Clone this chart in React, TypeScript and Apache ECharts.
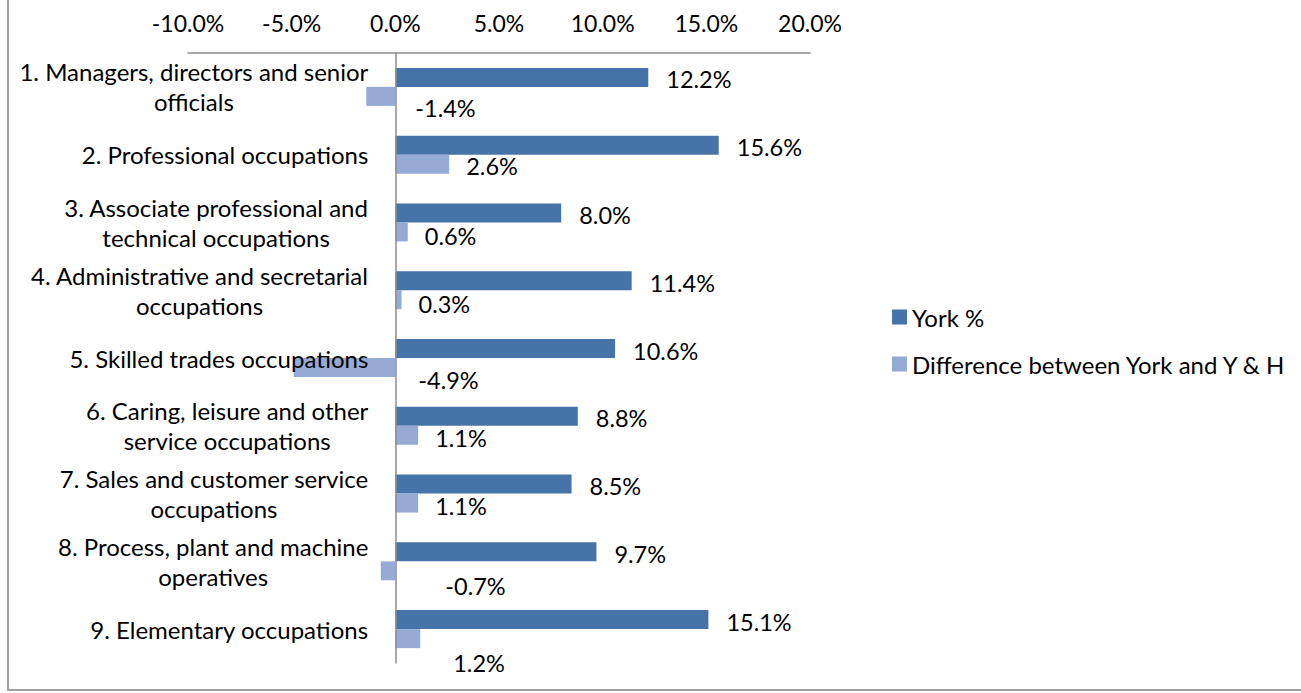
import React, { useEffect, useRef } from "react";
import * as echarts from "echarts";

const categories: string[] = [
  "1. Managers, directors and senior\nofficials",
  "2. Professional occupations",
  "3. Associate professional and\ntechnical occupations",
  "4. Administrative and secretarial\noccupations",
  "5. Skilled trades occupations",
  "6. Caring, leisure and other\nservice occupations",
  "7. Sales and customer service\noccupations",
  "8. Process, plant and machine\noperatives",
  "9. Elementary occupations",
];

const yorkPct: number[] = [12.2, 15.6, 8.0, 11.4, 10.6, 8.8, 8.5, 9.7, 15.1];
const diffYorkYH: number[] = [-1.4, 2.6, 0.6, 0.3, -4.9, 1.1, 1.1, -0.7, 1.2];

const seriesNames: string[] = ["York %", "Difference between York and Y & H"];

const X_MIN = -10;
const X_MAX = 20;
const X_STEP = 5;

// label nudges (style, not data)
const diffLabelNudge: number[][] = [
  [3, 12], [0, 2], [0, 4], [0, 4], [6, 12], [0, 3], [0, 3], [33, 15], [16, 24],
];

const FONT = "Lato, Carlito, 'Noto Sans', sans-serif";
const CAT_FS = 24;

const GRID_LEFT = 188;
const GRID_RIGHT_EDGE = 810;

function measure(text: string, size: number): number {
  const c = document.createElement("canvas");
  const ctx = c.getContext("2d");
  if (!ctx) return text.length * size * 0.5;
  ctx.font = `${size}px ${FONT}`;
  return ctx.measureText(text).width;
}

export default function App() {
  const ref = useRef<HTMLDivElement>(null);
  useEffect(() => {
    if (!ref.current) return;
    const chart = echarts.init(ref.current, undefined, { renderer: "svg" });
    const fmt = (v: number) => `${v.toFixed(1)}%`;
    const zeroOffset = ((0 - X_MIN) / (X_MAX - X_MIN)) * (GRID_RIGHT_EDGE - GRID_LEFT);

    const rich: Record<string, any> = {};
    const catKey = (i: number) => `c${i}`;
    categories.forEach((name, i) => {
      const w = Math.max(...name.split("\n").map((l) => measure(l, CAT_FS))) + 2;
      rich[catKey(i)] = {
        width: w,
        align: "center",
        fontSize: CAT_FS,
        fontFamily: FONT,
        lineHeight: 30,
        color: "#000",
      };
    });

    chart.setOption({
      animation: false,
      textStyle: { fontFamily: FONT },
      grid: {
        left: GRID_LEFT,
        right: 1301 - GRID_RIGHT_EDGE,
        top: 53,
        bottom: 30,
        containLabel: false,
        outerBoundsMode: "none",
      },
      xAxis: {
        type: "value",
        position: "top",
        min: X_MIN,
        max: X_MAX,
        interval: X_STEP,
        axisLine: { show: true, lineStyle: { color: "#8c8c8c", width: 1.5 } },
        axisTick: { show: false },
        splitLine: { show: false },
        axisLabel: {
          formatter: (v: number) => fmt(v),
          color: "#000",
          fontSize: 23,
          fontFamily: FONT,
          margin: 19,
        },
      },
      yAxis: {
        type: "category",
        inverse: true,
        position: "left",
        offset: -zeroOffset,
        z: 5,
        data: categories,
        axisLine: { show: true, onZero: false, lineStyle: { color: "#8c8c8c", width: 1.5 } },
        axisTick: { show: false },
        axisLabel: {
          color: "#000",
          fontSize: CAT_FS,
          fontFamily: FONT,
          lineHeight: 30,
          margin: 26,
          align: "right",
          formatter: (value: string, index: number) =>
            value
              .split("\n")
              .map((l) => `{${catKey(index)}|${l}}`)
              .join("\n"),
          rich,
        },
      },
      legend: {
        orient: "vertical",
        left: 887,
        top: 300,
        itemWidth: 15,
        itemHeight: 15,
        itemGap: 23,
        icon: "rect",
        textStyle: { color: "#000", fontSize: 24, fontFamily: FONT, lineHeight: 24 },
        data: seriesNames,
      },
      series: [
        {
          name: seriesNames[0],
          type: "bar",
          barWidth: 19,
          barGap: "0%",
          itemStyle: { color: "#4674A8" },
          label: {
            show: true,
            position: "right",
            distance: 18,
            offset: [0, 2],
            color: "#000",
            fontSize: 23.5,
            fontFamily: FONT,
            formatter: (p: any) => fmt(p.value),
          },
          data: yorkPct,
        },
        {
          name: seriesNames[1],
          type: "bar",
          barWidth: 19,
          barGap: "0%",
          itemStyle: { color: "#95AAD4" },
          label: {
            show: true,
            position: "right",
            distance: 17,
            color: "#000",
            fontSize: 23.5,
            fontFamily: FONT,
            formatter: (p: any) => fmt(p.value),
          },
          data: diffYorkYH.map((v, i) => ({
            value: v,
            label: { offset: diffLabelNudge[i] },
          })),
        },
      ],
      graphic: [
        {
          type: "polyline",
          silent: true,
          shape: { points: [[8, 0], [8, 690], [1301, 690]] },
          style: { stroke: "#a0a0a0", lineWidth: 2, fill: "none" },
        },
      ],
    });
    return () => chart.dispose();
  }, []);
  return (
    <div
      ref={ref}
      style={{ position: "absolute", left: 0, top: 0, width: 1301, height: 693, background: "#fff" }}
    />
  );
}
